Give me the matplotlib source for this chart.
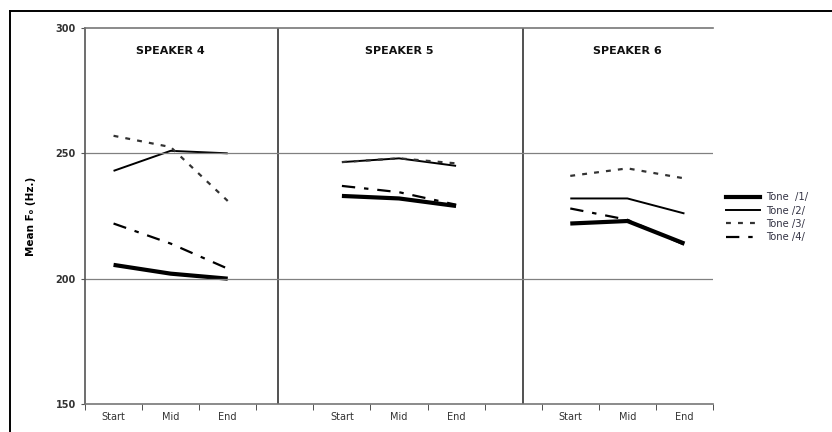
import numpy as np
import matplotlib
matplotlib.use("Agg")
import matplotlib.pyplot as plt
from matplotlib.lines import Line2D

# mean F0 (Hz) at Start / Mid / End of the syllable, per speaker and tone
phases = ["Start", "Mid", "End"]
speakers = ["SPEAKER 4", "SPEAKER 5", "SPEAKER 6"]
tone_labels = ["Tone  /1/", "Tone /2/", "Tone /3/", "Tone /4/"]

spk4_tone1 = [205.5, 202, 200]
spk4_tone2 = [243, 251, 250]
spk4_tone3 = [257, 252.5, 231]
spk4_tone4 = [222, 214, 204]

spk5_tone1 = [233, 232, 229]
spk5_tone2 = [246.5, 248, 245]
spk5_tone3 = [246.5, 248, 246]
spk5_tone4 = [237, 234.5, 229.5]

spk6_tone1 = [222, 223, 214]
spk6_tone2 = [232, 232, 226]
spk6_tone3 = [241, 244, 240]
spk6_tone4 = [228, 223.5, 213.5]

speaker_data = [
    [spk4_tone1, spk4_tone2, spk4_tone3, spk4_tone4],
    [spk5_tone1, spk5_tone2, spk5_tone3, spk5_tone4],
    [spk6_tone1, spk6_tone2, spk6_tone3, spk6_tone4],
]

styles = [
    dict(color="black", lw=3.0, ls="-"),
    dict(color="black", lw=1.4, ls="-"),
    dict(color="#333333", lw=1.6, ls=(0, (2.2, 3.2))),
    dict(color="black", lw=1.6, ls=(0, (6, 4, 2, 4))),
]

fig = plt.figure(figsize=(8.32, 4.32), dpi=100)
ax = fig.add_axes([85 / 832, 1 - 404 / 432, 628 / 832, 376 / 432])

for s, tones in enumerate(speaker_data):
    x = np.arange(3) + 4 * s
    for t, vals in enumerate(tones):
        ax.plot(x, vals, solid_capstyle="butt", dash_capstyle="butt", **styles[t])
    ax.text(x[1], 291, speakers[s], ha="center", va="center",
            fontsize=8, fontweight="bold", color="#111111")

ax.set_xlim(-0.5, 10.5)
ax.set_ylim(150, 300)

# group dividers and gridlines
for xd in [2.886, 7.167]:
    ax.axvline(xd, color="#222222", lw=1.1)
for yg in [200, 250]:
    ax.axhline(yg, color="#808080", lw=0.9)

ax.set_yticks([150, 200, 250, 300])
ax.tick_params(axis="y", labelsize=7, length=3, color="#555555", labelcolor="#333333")
for lab in ax.get_yticklabels():
    lab.set_fontweight("bold")

centers = [0, 1, 2, 4, 5, 6, 8, 9, 10]
ax.set_xticks(centers)
ax.set_xticklabels(phases * 3, fontsize=7, color="#333333")
ax.tick_params(axis="x", length=0, pad=6)
ax.set_xticks(np.arange(-0.5, 11, 1), minor=True)
ax.tick_params(axis="x", which="minor", length=4, color="#333333", direction="out")

for side in ["bottom", "top"]:
    ax.spines[side].set_color("#777777")
    ax.spines[side].set_linewidth(1.2)
ax.spines["left"].set_color("#555555")
ax.spines["left"].set_linewidth(1.2)
ax.spines["right"].set_visible(False)

ax.set_ylabel("Mean F₀ (Hz.)", fontsize=7.5, fontweight="bold", labelpad=14)

handles = [Line2D([], [], **st) for st in styles]
fig.legend(handles, tone_labels, loc="center left", bbox_to_anchor=(0.862, 0.497),
           frameon=False, fontsize=7.2, handlelength=3.4, handletextpad=0.6,
           labelspacing=0.32, labelcolor="#333344")

# outer frame
fig.add_artist(Line2D([10 / 832, 1], [1 - 11 / 432, 1 - 11 / 432],
                      transform=fig.transFigure, color="black", lw=1.4))
fig.add_artist(Line2D([10 / 832, 10 / 832], [0, 1 - 11 / 432],
                      transform=fig.transFigure, color="black", lw=1.4))

fig.savefig("out.png", dpi=100)
